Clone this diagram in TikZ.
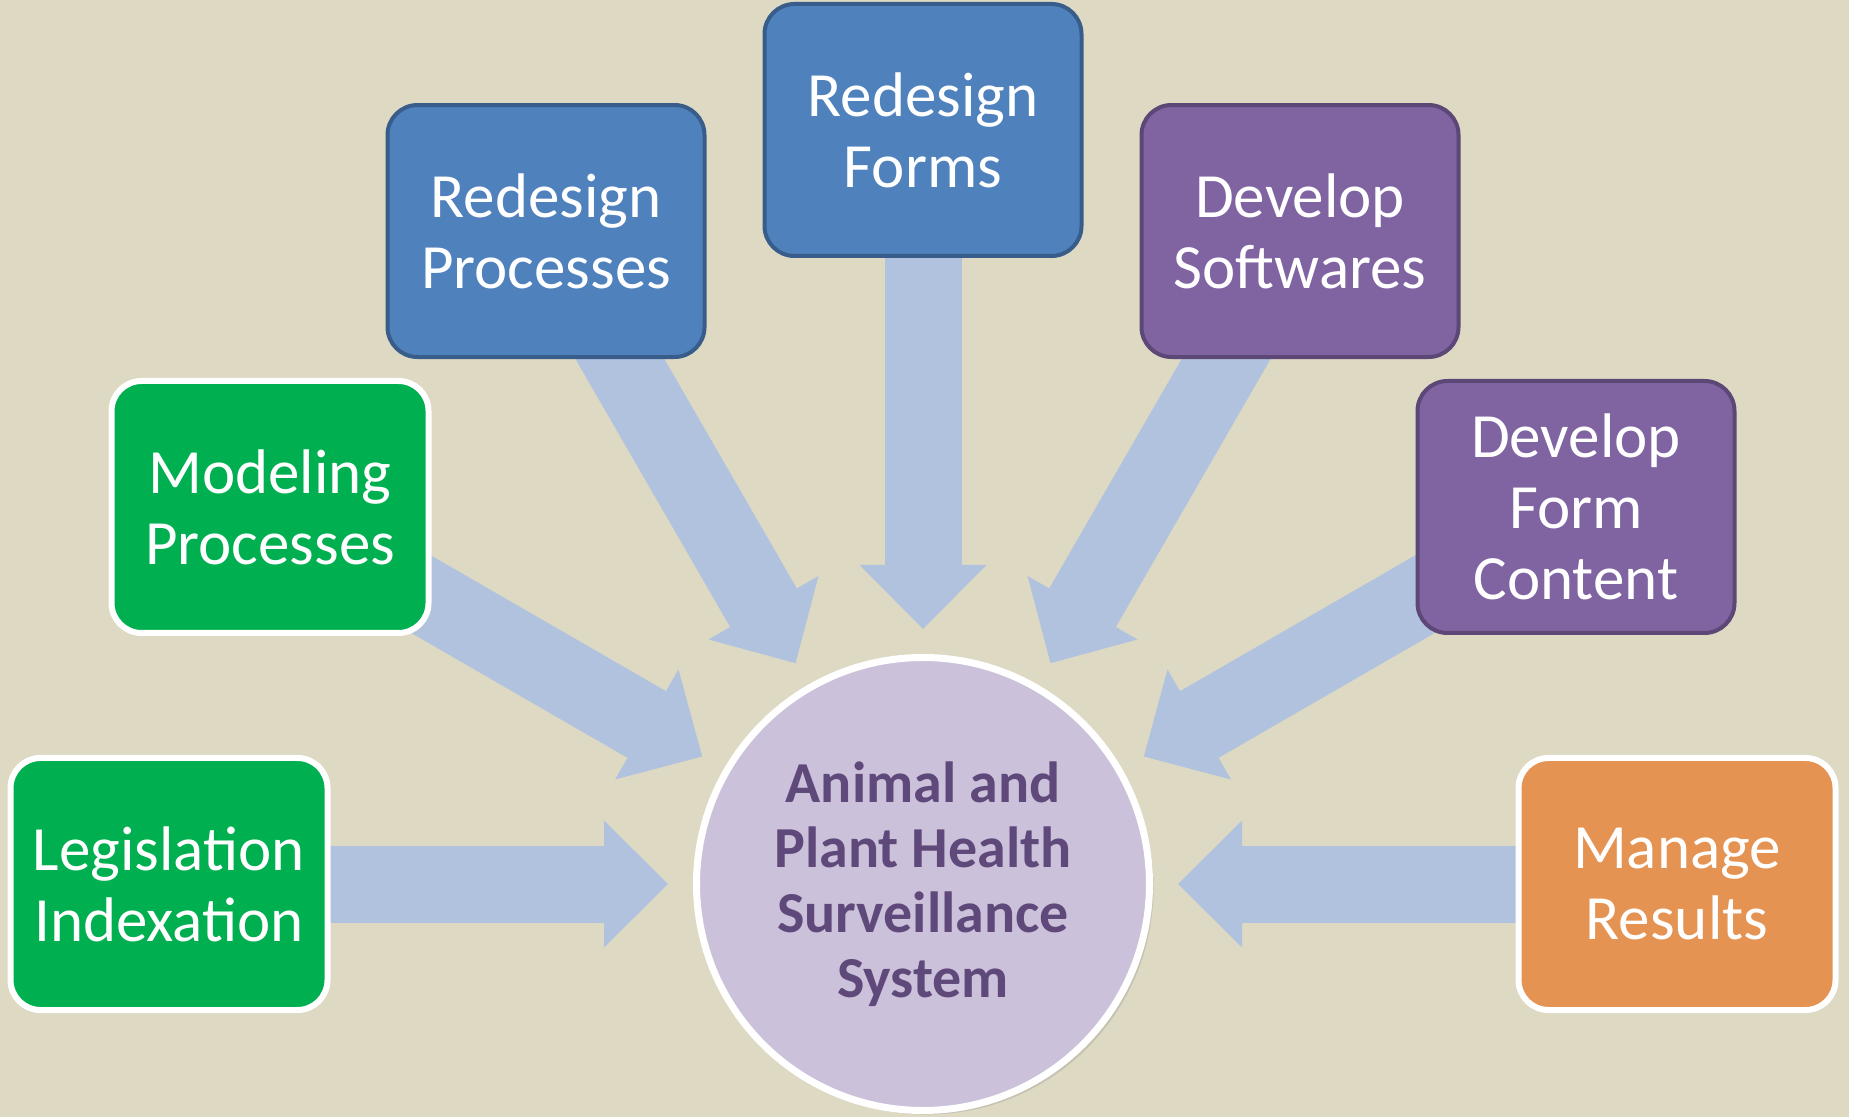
\documentclass[tikz,border=0pt]{standalone}
\usepackage{fontspec}
\setmainfont{Carlito}
\usetikzlibrary{arrows.meta,calc,backgrounds,shadows}
\definecolor{my_bg}{RGB}{221,217,195}
\definecolor{my_green}{RGB}{0,176,80}
\definecolor{my_blue}{RGB}{79,129,189}
\definecolor{my_blue_d}{RGB}{56,93,138}
\definecolor{my_purple}{RGB}{128,100,162}
\definecolor{my_purple_d}{RGB}{92,71,118}
\definecolor{my_orange}{RGB}{229,147,83}
\definecolor{my_arrow}{RGB}{177,194,222}
\definecolor{my_lilac}{RGB}{204,193,218}
\definecolor{my_text}{RGB}{95,73,122}
\tikzset{
  taskbox/.style = {align=center, inner sep=0pt, rounded corners=30pt, text=white,
  minimum width=317pt, minimum height=252pt, font=\fontsize{63}{71}\selectfont},
  task_g/.style = {taskbox, fill=my_green, draw=white, line width=6pt},
  task_b/.style = {taskbox, fill=my_blue, draw=my_blue_d, line width=4pt},
  task_p/.style = {taskbox, fill=my_purple, draw=my_purple_d, line width=4pt},
  task_o/.style = {taskbox, fill=my_orange, draw=white, line width=6pt},
  bigarrow/.style = {draw=my_arrow, line width=77pt,
  -{Triangle[length=64pt, width=127pt, line width=0pt]}}
}

\begin{document}
\begin{tikzpicture}[x=1pt, y=1pt,
        	hub/.style={circle, fill=my_lilac, draw=white, line width=7pt, minimum size=453pt,
        	align=center, text=my_text, font=\fontsize{58}{65}\selectfont\bfseries,
        	drop shadow={shadow xshift=4pt, shadow yshift=-4pt, opacity=0.25}}]
            \useasboundingbox (0,0) rectangle (1849,1117);
            \node [hub] (sys) at (923,233) {Animal and\\Plant Health\\Surveillance\\System};
            \node [task_g] (leg) at ($(sys)+(180:754)$) {Legislation\\Indexation};
            \node [task_g] (mod) at ($(sys)+(150:754)$) {Modeling\\Processes};
            \node [task_b] (redp) at ($(sys)+(120:754)$) {Redesign\\Processes};
            \node [task_b] (redf) at ($(sys)+(90:754)$) {Redesign\\Forms};
            \node [task_p] (devs) at ($(sys)+(60:754)$) {Develop\\Softwares};
            \node [task_p] (devf) at ($(sys)+(30:754)$) {Develop\\Form\\Content};
            \node [task_o] (man) at ($(sys)+(0:754)$) {Manage\\Results};
            \begin{pgfonlayer}{background}
              \fill [my_bg] (0,0) rectangle (1849,1117);
              \foreach \n/\a in {leg/180, mod/150, redp/120, redf/90, devs/60, devf/30, man/0} {
                \coordinate (tip_\n) at ($(sys)+(\a:255)$);
                \draw [bigarrow] (\n.center) -- (tip_\n);
              }
            \end{pgfonlayer}
        \end{tikzpicture}
\end{document}
